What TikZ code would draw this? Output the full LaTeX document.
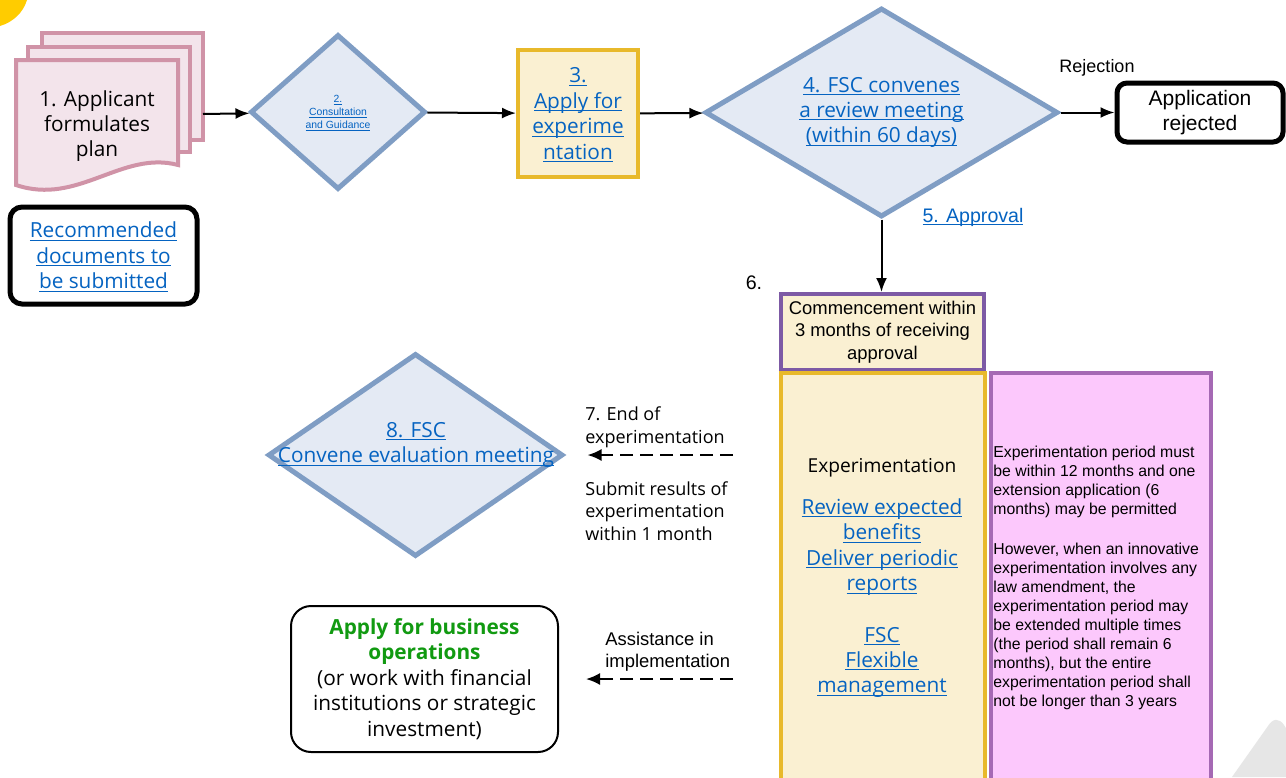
\documentclass[tikz,border=0pt]{standalone}
\usepackage{fontspec}
\setmainfont{Liberation Sans}
\newfontfamily\segoe{Open Sans}
\usetikzlibrary{arrows.meta,positioning,shapes.geometric}
\definecolor{SbRose}{HTML}{D093A7}
\definecolor{SbBlush}{HTML}{F3E4EB}
\definecolor{SbSteel}{HTML}{7F9DC4}
\definecolor{SbMist}{HTML}{E4EAF4}
\definecolor{SbGold}{HTML}{E8B92B}
\definecolor{SbCream}{HTML}{FAF0D2}
\definecolor{SbPurple}{HTML}{7D5AA5}
\definecolor{SbPink}{HTML}{FCC8FC}
\definecolor{SbLilac}{HTML}{A569B4}
\definecolor{SbLink}{HTML}{0563C1}
\definecolor{SbGreen}{HTML}{119A11}
\definecolor{SbCorner}{HTML}{FFCC00}
\definecolor{SbShade}{HTML}{E6E6E6}
% link text: blue, underlined at a fixed depth that does not move the text
\newcommand{\lnk}[1]{\textcolor{SbLink}{\setbox0\hbox{#1}\rlap{\smash{\rule[-0.14em]{\wd0}{0.05em}}}\box0}}
\newcommand{\segtext}{\segoe\fontsize{10.4}{12.7}\selectfont}
\newcommand{\smalltext}{\fontsize{9.2}{11.2}\selectfont}
\tikzset{
  sbpage/.style={
    draw=SbRose,
    fill=SbBlush,
    line width=2pt
  },
  sbdecision/.style={
    diamond,
    draw=SbSteel,
    fill=SbMist,
    line width=2.5pt,
    inner sep=0pt,
    align=center
  },
  sbend/.style={
    draw=black,
    line width=2.5pt,
    rounded corners=5pt,
    align=center,
    font=\segtext
  },
  sbgold/.style={
    draw=SbGold,
    fill=SbCream,
    line width=2pt,
    align=center
  },
  sbnote/.style={
    align=left,
    inner sep=1pt,
    font=\smalltext
  },
  sbarrow/.style={-{Latex[length=7pt,width=5.5pt]},line width=1pt},
  sbback/.style={
    -{Latex[length=7pt,width=6pt]},
    line width=1pt,
    dash pattern=on 6.5pt off 3.5pt
  }
}
\begin{document}
\begin{tikzpicture}[x=0.5pt,y=-0.5pt]
    \path[use as bounding box,clip] (0,0) rectangle (1286,777);
    \fill[white] (0,0) rectangle (1286,777);
    % slide corners
    \fill[SbCorner] (0,0) -- (27,0) .. controls (23,13) and (13,22) .. (0,26) -- cycle;
    \fill[SbShade] (1232,777) -- (1268,726) .. controls (1273,718) and (1279,718) .. (1284,725) -- (1290,735) -- (1290,777) -- cycle;

    % step 1: the plan, drawn as a stack of pages
    \node[sbpage,minimum width=80.5pt,minimum height=53.5pt] (page3) at (122.5,86.5) {};
    \node[sbpage,minimum width=81pt,minimum height=52.5pt] (page2) at (109,99.5) {};
    \draw[sbpage] (16,60) -- (178,60) -- (178,165) .. controls (122,150) and (78,206) .. (16,185) -- cycle;
    \node[align=center,font=\segtext] (plan) at (97,126) {1. Applicant\\formulates\\plan};
    \coordinate (planout) at (203,114);
    \node[sbend,minimum width=93.5pt,minimum height=48.5pt,rounded corners=6pt] (docs) at (103.5,255.5) {\lnk{Recommended}\\\lnk{documents to}\\\lnk{be submitted}};

    % steps 2 to 4
    \node[sbdecision,minimum width=87.5pt,minimum height=77.5pt,font=\fontsize{5.2}{6.5}\selectfont] (consult) at (338,112) {\lnk{2.}\\\lnk{Consultation}\\\lnk{and Guidance}};
    \node[sbgold,minimum width=60pt,minimum height=63.5pt,font=\segtext] (apply) at (578,113.5) {\lnk{3.}\\\lnk{Apply for}\\\lnk{experime}\\\lnk{ntation}};
    \node[sbdecision,aspect=1.7,minimum width=176.5pt,minimum height=104.5pt,font=\segtext] (review) at (881.5,112.5) {\lnk{4. FSC convenes}\\\lnk{a review meeting}\\\lnk{(within 60 days)}};
    \node[sbend,minimum width=83pt,minimum height=29.5pt,font=\fontsize{10.5}{12.6}\selectfont] (rejected) at (1200,112.5) {Application\\rejected};
    \node[font=\fontsize{9}{11}\selectfont] (rejlabel) at (1097,68) {Rejection};
    \node[font=\fontsize{9.8}{12}\selectfont] (approval) at (973,217) {\lnk{5. Approval}};
    \node[font=\fontsize{9.8}{12}\selectfont] (six) at (754,283) {6.};

    % steps 6 and 7
    \node[sbgold,draw=SbPurple,minimum width=101.5pt,minimum height=38pt,font=\smalltext] (commence) at (882.5,332) {Commencement within\\3 months of receiving\\approval};
    \node[sbgold,minimum width=102pt,minimum height=213.5pt] (expbox) at (883,586.5) {};
    \node[align=center,font=\segtext] (exptext) at (882,578) {{\fontsize{9.6}{12.7}\selectfont Experimentation}\\[8.5pt]\lnk{Review expected}\\\lnk{benefits}\\\lnk{Deliver periodic}\\\lnk{reports}\\[13pt]\lnk{FSC}\\\lnk{Flexible}\\\lnk{management}};
    \node[draw=SbLilac,fill=SbPink,line width=2pt,minimum width=110pt,minimum height=213.5pt] (rulebox) at (1101,586.5) {};
    \node[sbnote,anchor=west,font=\fontsize{7.9}{9.5}\selectfont] (ruletext) at (991,578) {Experimentation period must\\be within 12 months and one\\extension application (6\\months) may be permitted\\[10.3pt]However, when an innovative\\experimentation involves any\\law amendment, the\\experimentation period may\\be extended multiple times\\(the period shall remain 6\\months), but the entire\\experimentation period shall\\not be longer than 3 years};

    % step 8 and after
    \node[sbdecision,minimum width=147.5pt,minimum height=101.5pt] (evaluate) at (415.5,455) {};
    \node[align=center,font=\segtext] (evaltext) at (416,445) {\lnk{8. FSC}\\\lnk{Convene evaluation meeting}};
    \node[sbend,line width=1pt,rounded corners=10pt,minimum width=133.5pt,minimum height=73pt] (business) at (424.5,679) {\textcolor{SbGreen}{\bfseries Apply for business}\\\textcolor{SbGreen}{\bfseries operations}\\(or work with financial\\institutions or strategic\\investment)};
    \node[sbnote,anchor=west,font=\segoe\fontsize{9}{11.4}\selectfont] (endlabel) at (583,427) {7. End of\\experimentation};
    \node[sbnote,anchor=west,font=\segoe\fontsize{9}{11.2}\selectfont] (submitlabel) at (583,511) {Submit results of\\experimentation\\within 1 month};
    \node[sbnote,anchor=west] (assistlabel) at (603,652) {Assistance in\\implementation};

    \draw[sbarrow] (planout) -- (consult);
    \draw[sbarrow] (consult) -- (apply);
    \draw[sbarrow] (apply) -- (review);
    \draw[sbarrow] (review) -- (rejected);
    \draw[sbarrow] (review.south) -- (review.south |- commence.north);
    \draw[sbback,shorten <=23pt,shorten >=11pt] (expbox.west |- evaluate) -- (evaluate);
    \draw[sbback,shorten <=23pt,shorten >=13.5pt] (expbox.west |- business) -- (business);
  \end{tikzpicture}
\end{document}
